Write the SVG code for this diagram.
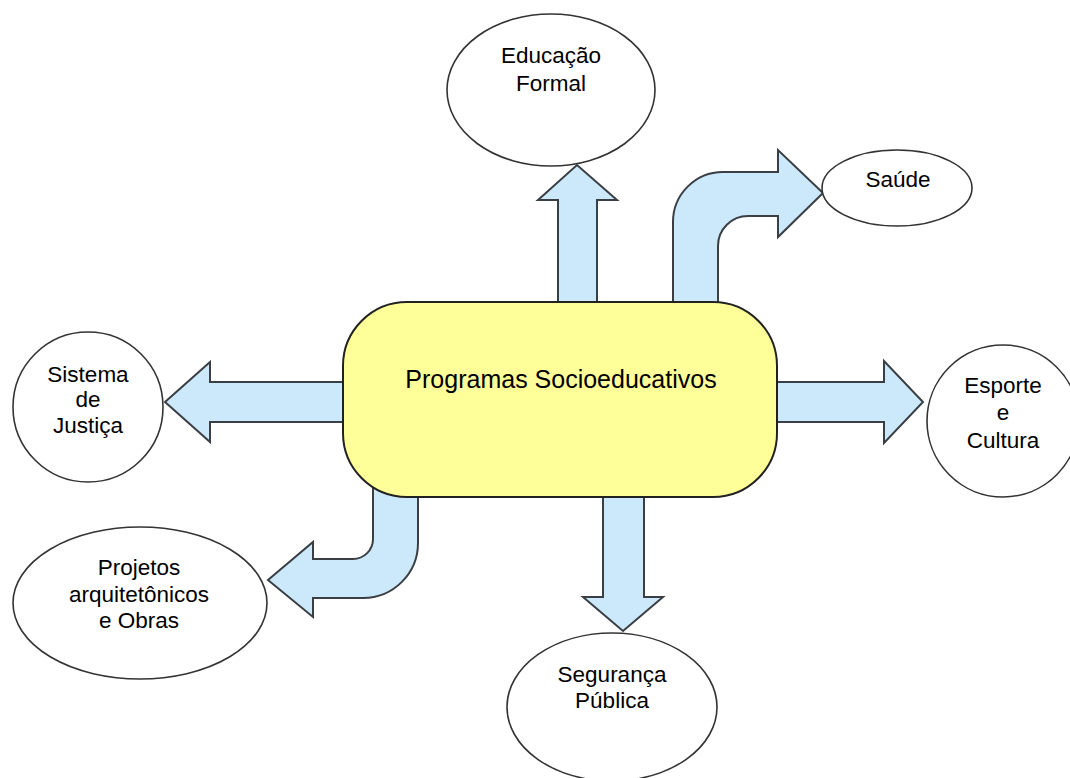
<svg xmlns="http://www.w3.org/2000/svg" width="1070" height="778" viewBox="0 0 1070 778">
<style>
.arrow{fill:#cce9fc;stroke:#3a3f44;stroke-width:2;stroke-linejoin:miter}
.ell{fill:#ffffff;stroke:#333;stroke-width:1.6}
.lbl{font-family:"Liberation Sans",Arial,sans-serif;font-size:22.5px;fill:#000;text-anchor:middle}
.main{font-family:"Liberation Sans",Arial,sans-serif;font-size:25px;fill:#000;text-anchor:middle}
</style>
<rect width="1070" height="778" fill="#fff"/>
<g id="connectors">
<path class="arrow" d="M558,320 L558,200 L538,200 L577,165 L617,200 L597,200 L597,320 Z"/>
<path class="arrow" d="M673,320 L673,222 A50,50 0 0 1 723,172 L778,172 L778,150 L823,193 L778,237 L778,216 L748,216 A30,30 0 0 0 718,246 L718,320 Z"/>
<path class="arrow" d="M760,382 L884,382 L884,361 L923,402 L884,443 L884,422 L760,422 Z"/>
<path class="arrow" d="M360,382 L210,382 L210,362 L165,402 L210,442 L210,422 L360,422 Z"/>
<path class="arrow" d="M603,480 L603,597 L583,597 L623,631 L663,597 L644,597 L644,480 Z"/>
<path class="arrow" d="M373,470 L373,539 A20,20 0 0 1 353,559 L313,559 L313,542 L268,580 L313,617 L313,598 L363,598 A55,55 0 0 0 418,543 L418,470 Z"/>
</g>
<g id="center">
<rect x="343" y="302" width="434" height="195" rx="64" ry="64" fill="#ffff99" stroke="#222" stroke-width="2"/>
<text class="main" x="561" y="388">Programas Socioeducativos</text>
</g>
<g id="educacao">
<ellipse class="ell" cx="551" cy="90" rx="104" ry="76"/>
<text class="lbl" x="551" y="63">Educação</text>
<text class="lbl" x="551" y="91">Formal</text>
</g>
<g id="saude">
<ellipse class="ell" cx="897" cy="188" rx="75" ry="38"/>
<text class="lbl" x="898" y="187">Saúde</text>
</g>
<g id="sistema">
<ellipse class="ell" cx="88" cy="407" rx="75" ry="75"/>
<text class="lbl" x="88" y="382">Sistema</text>
<text class="lbl" x="88" y="407">de</text>
<text class="lbl" x="88" y="433">Justiça</text>
</g>
<g id="esporte">
<ellipse class="ell" cx="1003" cy="421" rx="76" ry="76"/>
<text class="lbl" x="1003" y="393">Esporte</text>
<text class="lbl" x="1003" y="420">e</text>
<text class="lbl" x="1003" y="448">Cultura</text>
</g>
<g id="projetos">
<ellipse class="ell" cx="140" cy="603" rx="127" ry="76"/>
<text class="lbl" x="139" y="575">Projetos</text>
<text class="lbl" x="139" y="602">arquitetônicos</text>
<text class="lbl" x="139" y="628">e Obras</text>
</g>
<g id="seguranca">
<ellipse class="ell" cx="612" cy="707" rx="105" ry="74"/>
<text class="lbl" x="612" y="682">Segurança</text>
<text class="lbl" x="612" y="708">Pública</text>
</g>
</svg>
